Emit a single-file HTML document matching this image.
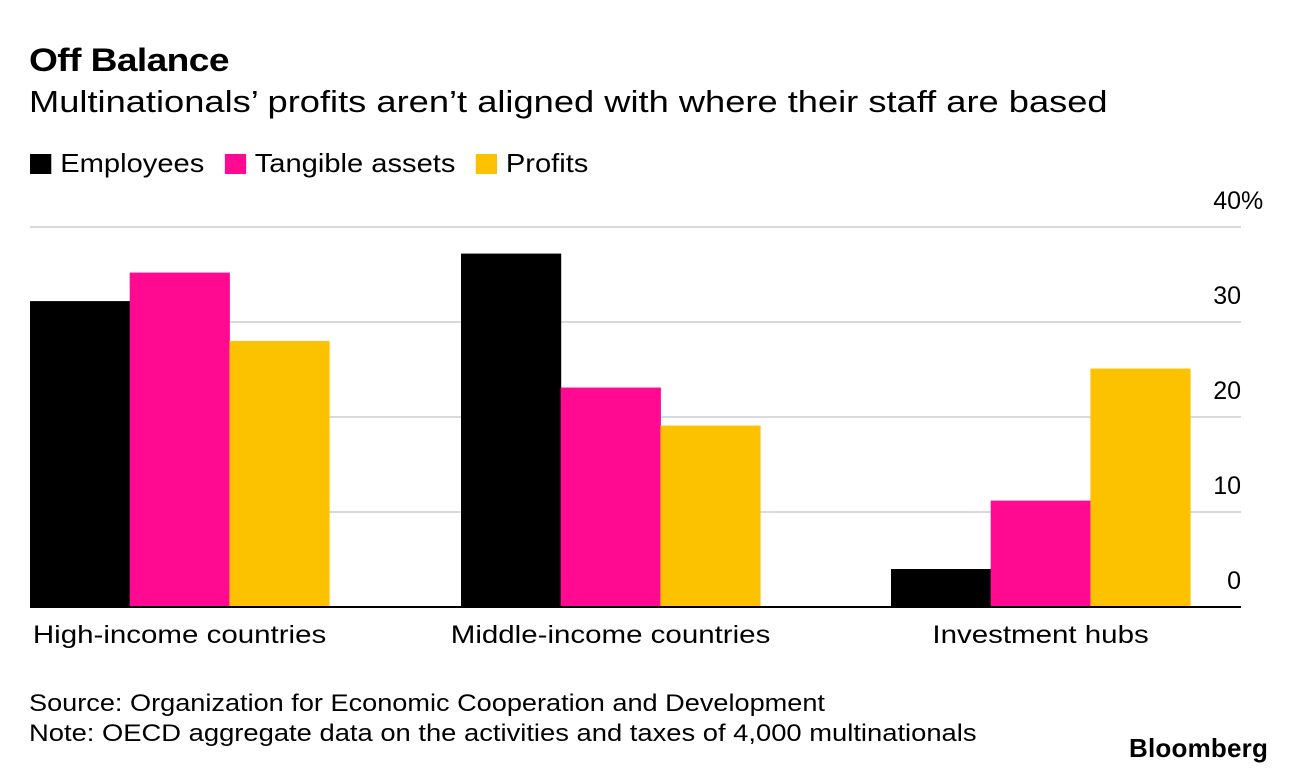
<!DOCTYPE html>
<html><head><meta charset="utf-8"><style>
body{margin:0;width:1296px;height:774px;background:#fff;font-family:"Liberation Sans",Arial,sans-serif;color:#000;overflow:hidden;position:relative}
.t{position:absolute;white-space:nowrap;transform-origin:left top}
</style></head><body>
<div class="t" style="left:29px;top:42px;font-size:32px;font-weight:bold;letter-spacing:-0.5px;transform:scaleX(1.16)">Off Balance</div>
<div class="t" style="left:29px;top:84px;font-size:31px;transform:scaleX(1.17)">Multinationals’ profits aren’t aligned with where their staff are based</div>
<div class="t" style="left:30px;top:148px;font-size:26px;display:flex;align-items:center;transform:scaleX(1.12)">
<span style="display:flex;align-items:center"><span style="width:19px;height:20px;background:#000;margin-right:8px"></span>Employees</span>
<span style="display:flex;align-items:center;margin-left:18px"><span style="width:19px;height:20px;background:#ff0a91;margin-right:8px"></span>Tangible assets</span>
<span style="display:flex;align-items:center;margin-left:18px"><span style="width:19px;height:20px;background:#fcc200;margin-right:8px"></span>Profits</span>
</div>
<svg id="chart" width="1296" height="774" style="position:absolute;left:0;top:0"></svg>
<div class="t" style="left:29px;top:690px;font-size:24px;transform:scaleX(1.13)">Source: Organization for Economic Cooperation and Development</div>
<div class="t" style="left:29px;top:720px;font-size:24px;transform:scaleX(1.14)">Note: OECD aggregate data on the activities and taxes of 4,000 multinationals</div>
<div class="t" style="left:1129px;top:733px;font-size:26px;font-weight:bold;letter-spacing:0.2px">Bloomberg</div>
<script>
const categories=["High-income countries","Middle-income countries","Investment hubs"];
const employees=[32.2,37.2,4.0];
const assets=[35.2,23.1,11.2];
const profits=[28.0,19.1,25.1];
const ticks=[0,10,20,30,40];
const tickLabels=["0","10","20","30","40%"];
const svg=document.getElementById('chart');
const NS="http://www.w3.org/2000/svg";
const y=v=>607-v*9.5;
const groupX=[30,461,891], bw=99.7;
function mk(t,a){const e=document.createElementNS(NS,t);for(const k in a)e.setAttribute(k,a[k]);svg.appendChild(e);return e;}
ticks.forEach((v,i)=>{
 if(v>0){const g=mk('line',{x1:30,x2:1241,y1:y(v),y2:y(v),stroke:'#d9d9d9','stroke-width':2});
 
 }
 const t=mk('text',{x:1241,y:y(v)-18,'font-size':25,'text-anchor':'start'});
 t.textContent=tickLabels[i];
 
 
 const w=tickLabels[i].replace('%','').length*13.9;
 t.setAttribute('x',1241-w);
});
const series=[[employees,'#000','employees'],[assets,'#ff0a91','assets'],[profits,'#fcc200','profits']];
categories.forEach((c,ci)=>{
 series.forEach((s,si)=>{
  const v=s[0][ci];
  const r=mk('rect',{x:groupX[ci]+si*bw,y:y(v),width:bw+0.5,height:y(0)-y(v),fill:s[1]});
  
  
 });
 const cx=groupX[ci]+1.5*bw;
 const t=mk('text',{x:0,y:643,'font-size':25,'text-anchor':'middle',transform:'translate('+cx+',0) scale(1.18,1)'});
 t.textContent=c;
 
 
});
const ax=mk('line',{x1:30,x2:1241,y1:607,y2:607,stroke:'#000','stroke-width':2});


</script>
</body></html>
